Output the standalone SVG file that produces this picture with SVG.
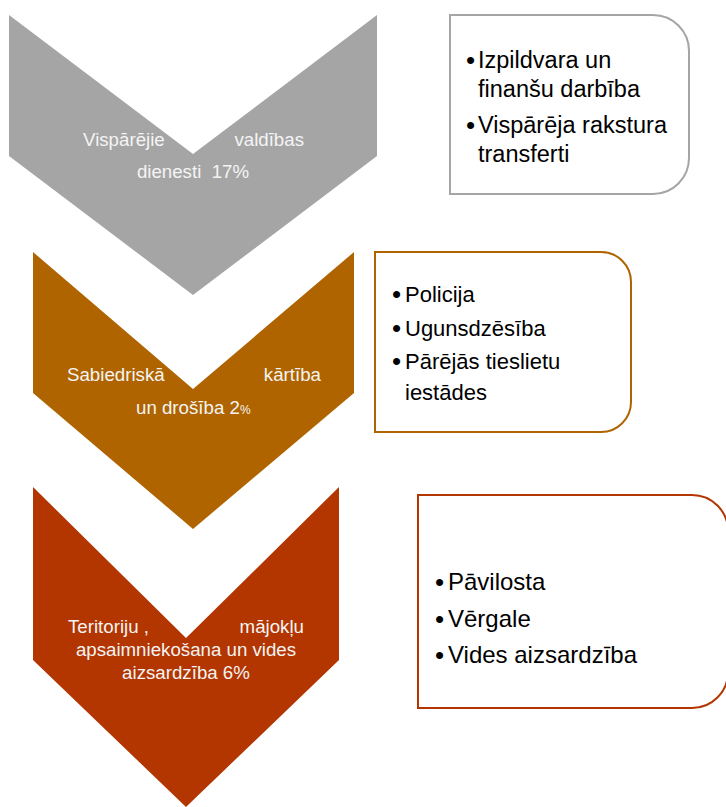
<svg xmlns="http://www.w3.org/2000/svg" width="726" height="807" viewBox="0 0 726 807">
<style>
.lbl{font-family:"Liberation Sans",Arial,sans-serif;font-size:18.7px;fill:#F4F4F4;white-space:pre}
.bt{font-family:"Liberation Sans",Arial,sans-serif;fill:#000}
.bul{font-size:26px}
.box{fill:#fff;stroke-width:2}
</style>
<rect width="726" height="807" fill="#fff"/>
<g id="connectors"/>
<g id="chevron1">
<polygon points="9,15 193,154 377,15 377,156 193,295 9,156" fill="#A5A5A5"/>
<text class="lbl" x="83" y="146">Vispārējie</text>
<text class="lbl" x="304" y="146" text-anchor="end">valdības</text>
<text class="lbl" x="193" y="178" text-anchor="middle" xml:space="preserve">dienesti  17%</text>
</g>
<g id="box1">
<path class="box" stroke="#A5A5A5" d="M450,15 H653 A36,36 0 0 1 689,51 V158 A36,36 0 0 1 653,194 H450 Z"/>
<g class="bt" font-size="23.5">
<text class="bul" x="466" y="69">•</text><text x="478" y="68">Izpildvara un</text>
<text x="478" y="97">finanšu darbība</text>
<text class="bul" x="466" y="134">•</text><text x="478" y="133">Vispārēja rakstura</text>
<text x="478" y="162">transferti</text>
</g>
</g>
<g id="chevron2">
<polygon points="33,252 193,389 354,252 354,393 193,529 33,393" fill="#AF6400"/>
<text class="lbl" x="67" y="381">Sabiedriskā</text>
<text class="lbl" x="321" y="381" text-anchor="end">kārtība</text>
<text class="lbl" x="136" y="414">un drošība 2<tspan font-size="12">%</tspan></text>
</g>
<g id="box2">
<path class="box" stroke="#AF6400" d="M375,252 H601 A30,30 0 0 1 631,282 V402 A30,30 0 0 1 601,432 H375 Z"/>
<g class="bt" font-size="22">
<text class="bul" x="392" y="303">•</text><text x="405" y="302">Policija</text>
<text class="bul" x="392" y="337">•</text><text x="405" y="336">Ugunsdzēsība</text>
<text class="bul" x="392" y="370">•</text><text x="405" y="369">Pārējās tieslietu</text>
<text x="405" y="400">iestādes</text>
</g>
</g>
<g id="chevron3">
<polygon points="33,487 186,638 339,487 339,660 186,807 33,660" fill="#B33500"/>
<text class="lbl" x="68" y="633">Teritoriju ,</text>
<text class="lbl" x="304" y="633" text-anchor="end">mājokļu</text>
<text class="lbl" x="186" y="656" text-anchor="middle">apsaimniekošana un vides</text>
<text class="lbl" x="186" y="679" text-anchor="middle">aizsardzība 6%</text>
</g>
<g id="box3">
<path class="box" stroke="#B33500" d="M418,495 H692 A36,36 0 0 1 728,531 V672 A36,36 0 0 1 692,708 H418 Z"/>
<g class="bt" font-size="24">
<text class="bul" x="435" y="591">•</text><text x="448" y="590">Pāvilosta</text>
<text class="bul" x="435" y="628">•</text><text x="448" y="627">Vērgale</text>
<text class="bul" x="435" y="664">•</text><text x="448" y="663">Vides aizsardzība</text>
</g>
</g>
</svg>
